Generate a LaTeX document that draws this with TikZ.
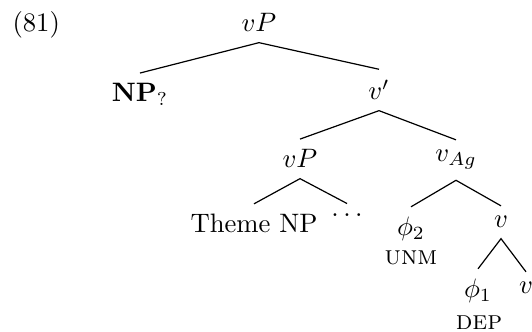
\documentclass[tikz,border=0pt]{standalone}
\begin{document}
\begin{tikzpicture}[x=0.375pt,y=-0.375pt,
  lbl/.style={inner xsep=0pt, inner ysep=3.8pt, anchor=base},
  branch/.style={line width=0.45pt}]
\useasboundingbox (0,0) rectangle (532,332);
\node[lbl, anchor=base west] (ex) at (12,32) {(81)};
\node[lbl] (vp) at (259,32) {$vP$};
\node[lbl] (np) at (140,102) {\textbf{NP}$_?$};
\node[lbl] (vbar) at (379,100) {$v'$};
\node[lbl] (vp2) at (300,168) {$vP$};
\node[lbl] (vag) at (456,162) {$v_{Ag}$};
\node[lbl] (theme) at (254,233) {Theme NP};
\node[lbl] (dots) at (347,217) {$\dots$};
\node[lbl] (phi2) at (411,236) {$\phi_2$};
\node[lbl] (unm) at (411,265) {\textsc{unm}};
\node[lbl] (v1) at (501,228) {$v$};
\node[lbl] (phi1) at (478,298) {$\phi_1$};
\node[lbl] (dep) at (479,330) {\textsc{dep}};
\node[lbl] (v2) at (526,294) {$v$};
\draw[branch] (np.north) -- (vp.south) -- (vbar.north);
\draw[branch] (vp2.north) -- (vbar.south) -- (vag.north);
\draw[branch] (theme.north) -- (vp2.south) -- (dots.north);
\draw[branch] (phi2.north) -- (vag.south) -- (v1.north);
\draw[branch] (phi1.north) -- (v1.south) -- (v2.north);
\end{tikzpicture}
\end{document}
